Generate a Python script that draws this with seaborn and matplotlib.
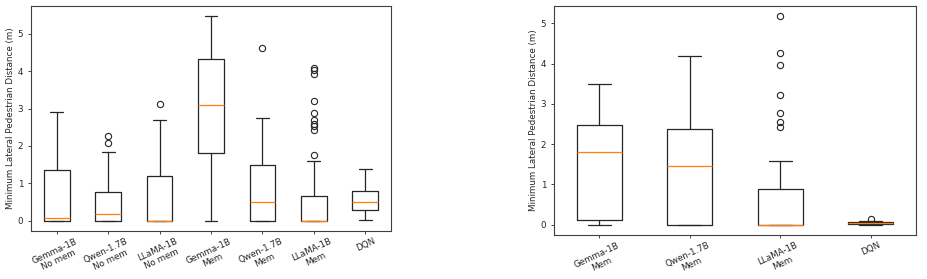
import matplotlib
matplotlib.use("Agg")
import matplotlib.pyplot as plt
import seaborn as sns

sns.set_theme(style="ticks", rc={
    "axes.edgecolor": "0.25",
    "axes.linewidth": 0.8,
    "xtick.major.size": 2.5,
    "ytick.major.size": 2.5,
    "xtick.major.width": 0.6,
    "ytick.major.width": 0.6,
})
plt.rcParams["font.family"] = ["DejaVu Sans"]

# left panel: all variants
left_labels = ["Gemma-1B\nNo mem", "Qwen-1.7B\nNo mem", "LLaMA-1B\nNo mem",
               "Gemma-1B\nMem", "Qwen-1.7B\nMem", "LLaMA-1B\nMem", "DQN"]
left_whislo = [0.0, 0.0, 0.0, 0.0, 0.0, 0.0, 0.01]
left_q1 = [0.0, 0.0, 0.0, 1.82, 0.0, 0.0, 0.30]
left_med = [0.08, 0.18, 0.0, 3.09, 0.50, 0.0, 0.50]
left_q3 = [1.36, 0.78, 1.19, 4.32, 1.48, 0.66, 0.80]
left_whishi = [2.92, 1.85, 2.69, 5.47, 2.75, 1.59, 1.39]
left_fliers = [[], [2.07, 2.26], [3.13], [], [4.61],
               [1.76, 2.42, 2.54, 2.59, 2.69, 2.88, 3.21, 3.93, 4.04, 4.08], []]

# right panel: memory variants only
right_labels = ["Gemma-1B\nMem", "Qwen-1.7B\nMem", "LLaMA-1B\nMem", "DQN"]
right_whislo = [0.0, 0.0, 0.0, 0.0]
right_q1 = [0.12, 0.0, 0.0, 0.01]
right_med = [1.81, 1.45, 0.0, 0.03]
right_q3 = [2.47, 2.38, 0.89, 0.07]
right_whishi = [3.49, 4.19, 1.59, 0.10]
right_fliers = [[], [], [2.43, 2.54, 2.76, 3.22, 3.97, 4.25, 5.17], [0.13]]

YLABEL = "Minimum Lateral Pedestrian Distance (m)"
FS = 6.3


def make_stats(labels, lo, q1, med, q3, hi, fliers):
    return [dict(label=l, whislo=a, q1=b, med=c, q3=d, whishi=e, fliers=f)
            for l, a, b, c, d, e, f in zip(labels, lo, q1, med, q3, hi, fliers)]


def draw(ax, stats):
    ax.bxp(stats, widths=0.5,
           boxprops=dict(color="0.15", linewidth=0.9),
           whiskerprops=dict(color="0.15", linewidth=0.9),
           capprops=dict(color="0.15", linewidth=0.9),
           medianprops=dict(color="#ff7f0e", linewidth=0.9),
           flierprops=dict(marker="o", markerfacecolor="none",
                           markeredgecolor="0.15", markersize=4.5,
                           markeredgewidth=0.8))
    ax.set_ylabel(YLABEL, fontsize=FS, color="0.15", labelpad=2)
    ax.tick_params(axis="y", labelsize=FS, colors="0.15", pad=3)
    ax.tick_params(axis="x", labelsize=FS, colors="0.15", pad=1.5)
    for t in ax.get_xticklabels():
        t.set_rotation(25)
        t.set_ha("center")
    for s in ax.spines.values():
        s.set_visible(True)


fig = plt.figure(figsize=(9.27, 2.79), dpi=100)
ax1 = fig.add_axes([31 / 927, 1 - 231 / 279, 360 / 927, 225 / 279])
ax2 = fig.add_axes([554 / 927, 1 - 235 / 279, 362 / 927, 229 / 279])

draw(ax1, make_stats(left_labels, left_whislo, left_q1, left_med,
                     left_q3, left_whishi, left_fliers))
draw(ax2, make_stats(right_labels, right_whislo, right_q1, right_med,
                     right_q3, right_whishi, right_fliers))

fig.savefig("out.png", dpi=100)
